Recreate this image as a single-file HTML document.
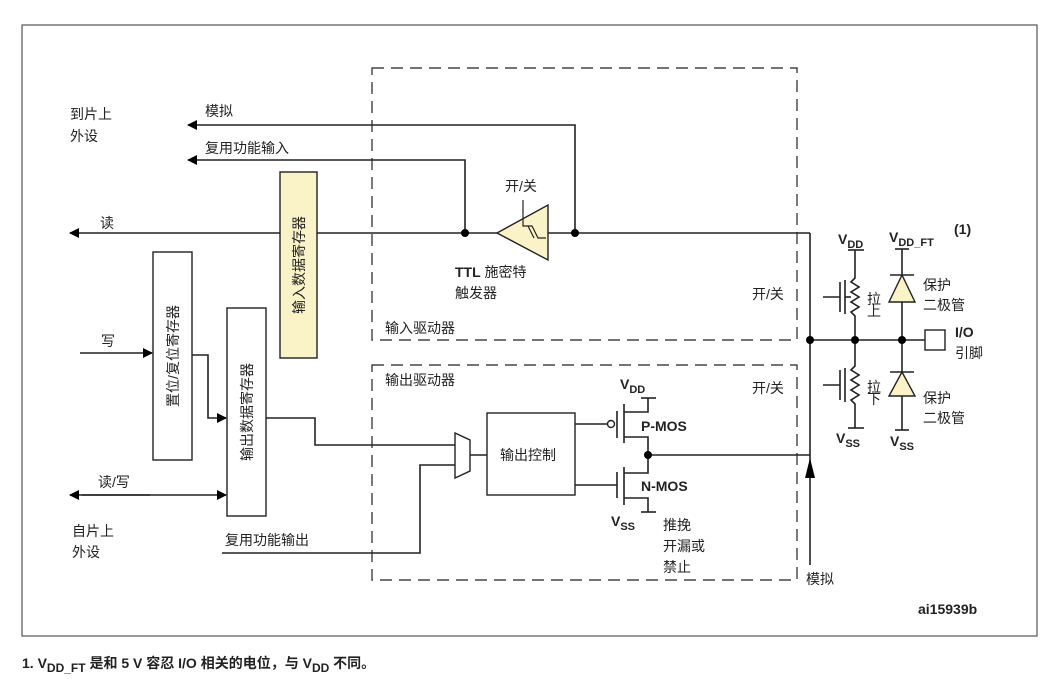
<!DOCTYPE html>
<html><head><meta charset="utf-8"><style>
body{margin:0;background:#fff;}
svg{display:block;font-family:"Liberation Sans","Noto Sans CJK SC",sans-serif;}
text{font-size:14px;fill:#222;}
.b{font-weight:bold;}
</style></head><body>
<svg width="1059" height="684" viewBox="0 0 1059 684">
<defs>
<marker id="a" markerWidth="10" markerHeight="10" refX="9" refY="5" orient="auto" markerUnits="userSpaceOnUse"><path d="M0,0 L10,5 L0,10 z" fill="#000"/></marker>
</defs>
<rect x="22" y="25" width="1015" height="611" fill="none" stroke="#555" stroke-width="1.2"/>
<g fill="none" stroke="#222" stroke-width="1.2" stroke-dasharray="12,7">
<rect x="372" y="68" width="425" height="272"/>
<rect x="372" y="365" width="425" height="215"/>
</g>
<g fill="none" stroke="#222" stroke-width="1.6">
<line x1="810" y1="233" x2="70" y2="233" marker-end="url(#a)"/>
<polyline points="575,233 575,125 188,125" marker-end="url(#a)"/>
<polyline points="465,233 465,160 188,160" marker-end="url(#a)"/>
<line x1="810" y1="233" x2="810" y2="565"/>
<line x1="80" y1="353" x2="152" y2="353" marker-end="url(#a)"/>
<polyline points="192,355 208,355 208,418 226,418" marker-end="url(#a)"/>
<line x1="82" y1="495" x2="226" y2="495" marker-end="url(#a)"/>
<line x1="150" y1="495" x2="70" y2="495" marker-end="url(#a)"/>
<polyline points="266,418 315,418 315,445 455,445"/>
<polyline points="222,553 420,553 420,465 455,465"/>
<line x1="470" y1="455" x2="487" y2="455"/>
<line x1="575" y1="424" x2="607" y2="424"/>
<line x1="575" y1="485" x2="617" y2="485"/>
<line x1="617" y1="411" x2="617" y2="438"/>
<line x1="617" y1="472" x2="617" y2="498"/>
<polyline points="648,398 648,412 624,412"/>
<line x1="624" y1="404" x2="624" y2="443"/>
<polyline points="624,437 648,437 648,473 624,473"/>
<line x1="624" y1="467" x2="624" y2="505"/>
<polyline points="624,498 648,498 648,512"/>
<line x1="641" y1="398" x2="656" y2="398"/>
<line x1="641" y1="512" x2="656" y2="512"/>
<line x1="648" y1="455" x2="810" y2="455"/>
<line x1="810" y1="340" x2="925" y2="340"/>
<line x1="848" y1="250" x2="864" y2="250"/>
<polyline points="855,250 855,278 851,282 859,287 851,292 859,297 851,302 859,307 851,312 855,316 855,340"/>
<line x1="823" y1="297" x2="840" y2="297"/>
<line x1="840" y1="282" x2="840" y2="312"/>
<line x1="845" y1="280" x2="845" y2="314"/>
<polyline points="845,297 851,297"/>
<polyline points="855,340 855,366 851,370 859,375 851,380 859,385 851,390 859,395 851,400 855,404 855,428"/>
<line x1="848" y1="428" x2="864" y2="428"/>
<line x1="823" y1="385" x2="840" y2="385"/>
<line x1="840" y1="370" x2="840" y2="400"/>
<line x1="845" y1="368" x2="845" y2="402"/>
<line x1="902" y1="249" x2="902" y2="430"/>
<line x1="895" y1="249" x2="909" y2="249"/>
<line x1="895" y1="430" x2="909" y2="430"/>
<line x1="890" y1="275" x2="914" y2="275"/>
<line x1="890" y1="372" x2="914" y2="372"/>
</g>
<g stroke="#222" stroke-width="1.4">
<polygon points="902,275 889,302 915,302" fill="#fbf3c8"/>
<polygon points="902,372 889,396 915,396" fill="#fbf3c8"/>
<polygon points="497,233 548,205 548,260" fill="#fbf3c8"/>
<rect x="280" y="172" width="37" height="186" fill="#fbf3c8"/>
<rect x="153" y="252" width="39" height="208" fill="#fff"/>
<rect x="227" y="308" width="39" height="208" fill="#fff"/>
<polygon points="455,433 470,440 470,471 455,478" fill="#fff"/>
<rect x="487" y="413" width="88" height="82" fill="#fff"/>
<rect x="925" y="330" width="20" height="20" fill="#fff"/>
<circle cx="611" cy="424" r="3.5" fill="#fff"/>
</g>
<g fill="none" stroke="#222" stroke-width="1.2">
<polyline points="523,217 523,226 532,226 538,238 546,238"/>
<line x1="523" y1="200" x2="523" y2="217"/>
<line x1="528" y1="226" x2="534" y2="238"/>
</g>
<g fill="#000">
<circle cx="465" cy="233" r="4"/><circle cx="575" cy="233" r="4"/>
<circle cx="810" cy="340" r="4"/><circle cx="855" cy="340" r="4"/><circle cx="902" cy="340" r="4"/>
<circle cx="648" cy="455" r="4"/>
<path d="M805,478 L810,458 L815,478 z"/>
</g>
<text x="70" y="119">到片上</text><text x="70" y="141">外设</text>
<text x="205" y="116">模拟</text>
<text x="205" y="153">复用功能输入</text>
<text x="100" y="228">读</text>
<text x="505" y="191">开/关</text>
<text x="455" y="277"><tspan class="b">TTL</tspan> 施密特</text><text x="455" y="298">触发器</text>
<text x="101" y="346">写</text>
<text x="98" y="487">读/写</text>
<text x="72" y="536">自片上</text><text x="72" y="557">外设</text>
<text x="225" y="545">复用功能输出</text>
<text x="385" y="333">输入驱动器</text>
<text x="385" y="385">输出驱动器</text>
<text x="500" y="460">输出控制</text>
<text x="752" y="299">开/关</text>
<text x="752" y="393">开/关</text>
<text x="620" y="389" class="b">V<tspan font-size="11" dy="4">DD</tspan></text>
<text x="641" y="431" class="b">P-MOS</text>
<text x="641" y="491" class="b">N-MOS</text>
<text x="611" y="526" class="b">V<tspan font-size="11" dy="4">SS</tspan></text>
<text x="663" y="530">推挽</text><text x="663" y="551">开漏或</text><text x="663" y="572">禁止</text>
<text x="806" y="584">模拟</text>
<text x="838" y="244" class="b">V<tspan font-size="11" dy="4">DD</tspan></text>
<text x="889" y="242" class="b">V<tspan font-size="11" dy="4">DD_FT</tspan></text>
<text x="954" y="234" font-size="10" class="b">(1)</text>
<text x="867" y="304" font-size="10">拉</text><text x="867" y="316" font-size="10">上</text>
<text x="867" y="392" font-size="10">拉</text><text x="867" y="404" font-size="10">下</text>
<text x="923" y="290">保护</text><text x="923" y="310">二极管</text>
<text x="923" y="403">保护</text><text x="923" y="423">二极管</text>
<text x="955" y="337" class="b">I/O</text><text x="955" y="358">引脚</text>
<text x="836" y="443" class="b">V<tspan font-size="11" dy="4">SS</tspan></text>
<text x="890" y="446" class="b">V<tspan font-size="11" dy="4">SS</tspan></text>
<text x="918" y="614" font-size="12" class="b">ai15939b</text>
<text transform="translate(304,265) rotate(-90)" text-anchor="middle">输入数据寄存器</text>
<text transform="translate(178,356) rotate(-90)" text-anchor="middle">置位/复位寄存器</text>
<text transform="translate(252,412) rotate(-90)" text-anchor="middle">输出数据寄存器</text>
<text x="22" y="668" font-size="15" class="b">1.   V<tspan font-size="12" dy="4">DD_FT</tspan><tspan dy="-4"> 是和 5 V 容忍 I/O 相关的电位，与 V</tspan><tspan font-size="12" dy="4">DD</tspan><tspan dy="-4"> 不同。</tspan></text>
</svg>
</body></html>
